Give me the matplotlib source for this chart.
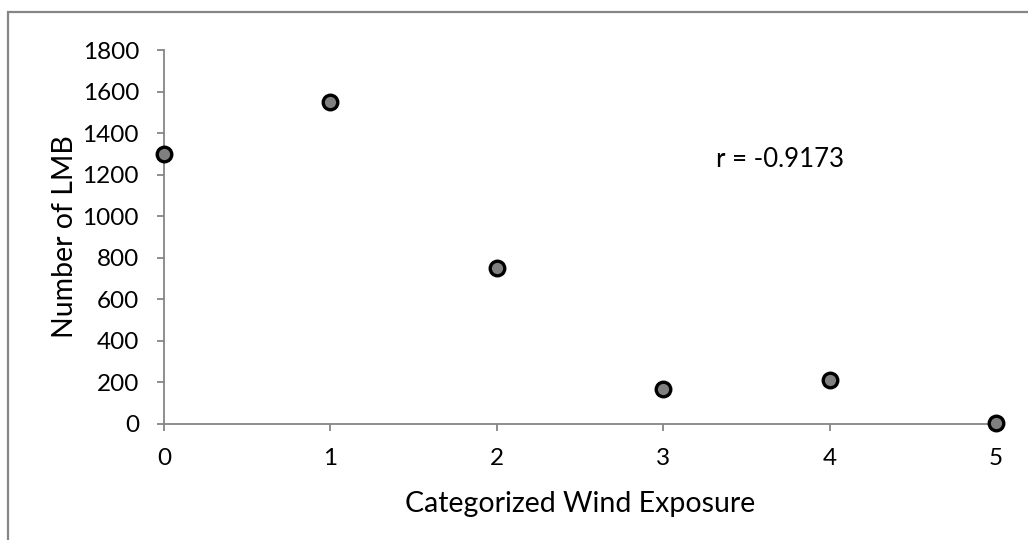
import matplotlib
matplotlib.use("Agg")
import matplotlib.pyplot as plt
from matplotlib.patches import Rectangle

plt.rcParams['font.family'] = ['Lato', 'DejaVu Sans']

# data
wind_exposure = [0, 1, 2, 3, 4, 5]
lmb_count = [1300, 1550, 750, 170, 210, 5]
x_ticks = [0, 1, 2, 3, 4, 5]
y_ticks = [0, 200, 400, 600, 800, 1000, 1200, 1400, 1600, 1800]
r_label = "r = -0.9173"

axis_gray = "#868686"

fig = plt.figure(figsize=(10.28, 5.40), dpi=100)
ax = fig.add_axes([164 / 1028, 1 - 424 / 540, (996 - 164) / 1028, (424 - 50) / 540])

# chart area border (left and top visible, runs off the image)
fig.patches.append(Rectangle((7.5 / 1028, -0.05), 1.1, 1 - 12 / 540 + 0.05,
                             transform=fig.transFigure, fill=False,
                             edgecolor=axis_gray, linewidth=1.6))

ax.plot(wind_exposure, lmb_count, linestyle='none', marker='o', markersize=10.5,
        markerfacecolor='#808080', markeredgecolor='black', markeredgewidth=2.4,
        clip_on=False, zorder=5)

ax.set_xlim(0, 5)
ax.set_ylim(0, 1800)
ax.set_xticks(x_ticks)
ax.set_yticks(y_ticks)

for side in ['top', 'right']:
    ax.spines[side].set_visible(False)
for side in ['left', 'bottom']:
    ax.spines[side].set_color(axis_gray)
    ax.spines[side].set_linewidth(1.3)

ax.tick_params(axis='both', direction='out', length=5, width=1.3, color=axis_gray,
               labelsize=17.5, labelcolor='black')
ax.tick_params(axis='x', pad=12)
ax.tick_params(axis='y', pad=13)

ax.set_xlabel('Categorized Wind Exposure', fontsize=20.5, labelpad=16)
ax.set_ylabel('Number of LMB', fontsize=20.5, labelpad=3)

ax.text(3.32, 1275, r_label, fontsize=18.5, va='center', ha='left')

fig.savefig('out.png', dpi=100)
